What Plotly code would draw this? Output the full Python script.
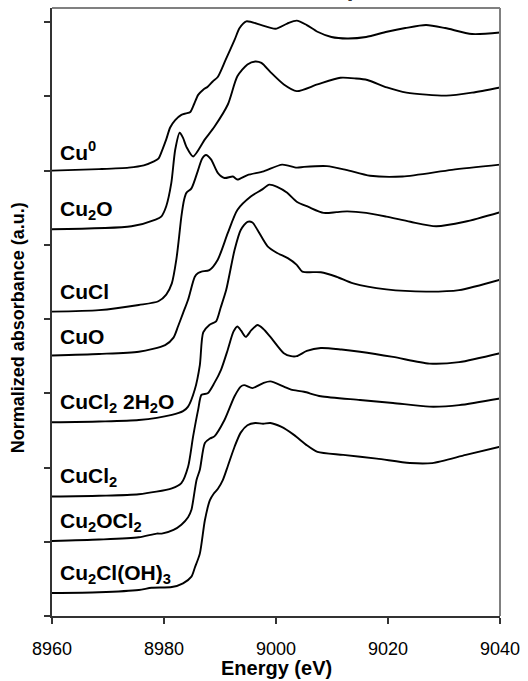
import plotly.graph_objects as go

# Cu K-edge XANES of reference compounds, stacked with vertical offsets.
# Each spectrum: energy (eV) and normalized absorbance; OFFSETS shift them.

NAMES = [
    "Cu<sup>0</sup>", "Cu<sub>2</sub>O", "CuCl", "CuO",
    "CuCl<sub>2</sub> 2H<sub>2</sub>O", "CuCl<sub>2</sub>",
    "Cu<sub>2</sub>OCl<sub>2</sub>", "Cu<sub>2</sub>Cl(OH)<sub>3</sub>",
]
OFFSETS = [6.0, 5.2, 4.1, 3.5, 2.6, 1.6, 1.0, 0.3]

E_CU0 = [8960, 8968.4, 8973.7, 8976.4, 8978.1, 8979.0, 8979.7, 8980.4, 8981.1,
         8982.0, 8983.1, 8983.9, 8984.7, 8985.4, 8986.1, 8987.0, 8987.8, 8988.7,
         8989.6, 8991.0, 8992.6, 8993.5, 8994.7, 8997.4, 8999.9, 9002.0, 9003.7,
         9005.5, 9007.4, 9009.9, 9012.7, 9016.1, 9019.8, 9023.1, 9026.8, 9030.2,
         9035.0, 9040]
MU_CU0 = [0.00, 0.02, 0.04, 0.07, 0.12, 0.16, 0.28, 0.42, 0.58, 0.68, 0.75, 0.77,
          0.79, 0.90, 1.02, 1.09, 1.13, 1.20, 1.26, 1.49, 1.76, 1.92, 2.01, 1.96,
          1.91, 1.98, 2.02, 1.96, 1.87, 1.80, 1.78, 1.80, 1.87, 1.92, 1.96, 1.92,
          1.84, 1.86]

E_CU2O = [8960, 8974.2, 8978.5, 8979.5, 8980.4, 8981.3, 8982.0, 8982.8, 8983.4,
          8984.0, 8985.2, 8987.3, 8989.0, 8991.4, 8993.1, 8994.9, 8996.3, 8997.4,
          8999.1, 9001.4, 9003.7, 9007.4, 9011.5, 9014.3, 9016.3, 9019.8, 9023.3,
          9030.4, 9035.0, 9040]
MU_CU2O = [0.01, 0.05, 0.14, 0.18, 0.32, 0.63, 1.08, 1.31, 1.24, 1.12, 0.99, 1.22,
           1.39, 1.69, 2.07, 2.23, 2.27, 2.25, 2.12, 1.96, 1.87, 1.96, 2.05, 2.04,
           2.02, 1.92, 1.85, 1.81, 1.85, 1.92]

E_CUCL = [8960, 8968.4, 8975.5, 8979.0, 8980.4, 8981.4, 8982.2, 8982.7, 8983.1,
          8983.6, 8984.0, 8984.9, 8986.1, 8986.8, 8987.5, 8988.4, 8989.6, 8990.8,
          8992.3, 8993.1, 8994.9, 8997.8, 9001.1, 9003.7, 9005.0, 9009.1, 9012.5,
          9016.8, 9022.6, 9031.4, 9040]
MU_CUCL = [0.00, 0.02, 0.09, 0.14, 0.23, 0.38, 0.70, 1.01, 1.28, 1.51, 1.60, 1.66,
           1.91, 2.06, 2.11, 2.05, 1.87, 1.80, 1.82, 1.78, 1.84, 1.89, 1.98, 1.94,
           1.95, 1.96, 1.91, 1.83, 1.82, 1.91, 1.98]

E_CUO = [8960, 8968.4, 8975.5, 8980.2, 8981.7, 8982.5, 8983.4, 8984.3, 8985.5,
         8986.1, 8986.7, 8988.1, 8989.6, 8991.4, 8993.1, 8995.5, 8997.4, 8998.8,
         9000.2, 9002.0, 9003.7, 9005.8, 9008.5, 9010.8, 9012.7, 9016.1, 9019.7,
         9024.0, 9028.6, 9033.7, 9040]
MU_CUO = [0.01, 0.03, 0.06, 0.15, 0.25, 0.40, 0.58, 0.76, 1.07, 1.12, 1.14, 1.16,
          1.30, 1.66, 1.97, 2.15, 2.24, 2.31, 2.28, 2.20, 2.08, 2.01, 1.93, 1.94,
          1.95, 1.93, 1.88, 1.81, 1.75, 1.81, 1.94]

E_CUCL2_2H2O = [8960, 8968.4, 8975.5, 8981.4, 8983.4, 8984.3, 8985.5, 8986.4,
                8987.0, 8988.1, 8989.3, 8990.1, 8991.1, 8992.6, 8993.7, 8994.9,
                8995.8, 8996.7, 8998.5, 9000.2, 9002.1, 9003.7, 9004.7, 9008.0,
                9010.8, 9013.8, 9019.7, 9026.8, 9032.7, 9040]
MU_CUCL2_2H2O = [0.01, 0.02, 0.04, 0.11, 0.16, 0.22, 0.45, 0.78, 1.22, 1.32, 1.37,
                 1.55, 1.79, 2.33, 2.60, 2.71, 2.70, 2.60, 2.38, 2.29, 2.22, 2.13,
                 2.04, 2.03, 1.97, 1.88, 1.80, 1.77, 1.79, 1.93]

E_CUCL2 = [8960, 8968.4, 8975.5, 8981.4, 8983.1, 8984.3, 8985.2, 8986.1, 8986.7,
           8987.8, 8989.0, 8990.2, 8991.4, 8992.4, 8993.1, 8993.8, 8994.6, 8995.6,
           8996.7, 8997.7, 8999.0, 9001.4, 9002.7, 9003.7, 9005.5, 9008.0, 9011.7,
           9015.0, 9020.9, 9027.4, 9032.7, 9040]
MU_CUCL2 = [0.01, 0.02, 0.04, 0.12, 0.19, 0.41, 0.82, 1.18, 1.38, 1.40, 1.54, 1.72,
            1.99, 2.23, 2.30, 2.24, 2.16, 2.25, 2.32, 2.27, 2.16, 1.94, 1.90, 1.90,
            1.97, 2.01, 1.99, 1.96, 1.89, 1.80, 1.82, 1.94]

E_CU2OCL2 = [8960, 8968.4, 8975.5, 8978.7, 8979.6, 8981.7, 8983.1, 8984.3, 8984.9,
             8985.8, 8986.4, 8987.3, 8988.2, 8989.0, 8990.8, 8992.6, 8993.7, 8994.3,
             8995.8, 8997.8, 8999.0, 9001.4, 9002.7, 9005.0, 9008.0, 9015.0, 9020.9,
             9027.4, 9032.7, 9040]
MU_CU2OCL2 = [0.01, 0.03, 0.06, 0.11, 0.11, 0.16, 0.23, 0.33, 0.43, 0.83, 0.97, 1.33,
              1.39, 1.42, 1.64, 1.96, 2.09, 2.11, 2.07, 2.14, 2.16, 2.09, 2.05, 2.02,
              1.96, 1.91, 1.87, 1.82, 1.84, 1.93]

E_CU2CLOH3 = [8960, 8968.4, 8975.5, 8977.8, 8981.4, 8983.4, 8984.9, 8985.5, 8986.4,
              8987.3, 8988.2, 8988.9, 8989.6, 8990.5, 8991.4, 8992.6, 8993.7, 8994.9,
              8996.3, 8997.7, 8999.0, 9000.9, 9003.2, 9005.5, 9007.4, 9012.0, 9018.0,
              9023.9, 9027.9, 9033.9, 9040]
MU_CU2CLOH3 = [0.01, 0.02, 0.05, 0.08, 0.09, 0.14, 0.23, 0.35, 0.54, 0.99, 1.26, 1.35,
               1.41, 1.53, 1.72, 1.98, 2.17, 2.27, 2.30, 2.29, 2.30, 2.25, 2.14, 2.00,
               1.91, 1.87, 1.82, 1.76, 1.76, 1.87, 1.98]

SPECTRA = [
    (E_CU0, MU_CU0), (E_CU2O, MU_CU2O), (E_CUCL, MU_CUCL), (E_CUO, MU_CUO),
    (E_CUCL2_2H2O, MU_CUCL2_2H2O), (E_CUCL2, MU_CUCL2),
    (E_CU2OCL2, MU_CU2OCL2), (E_CU2CLOH3, MU_CU2CLOH3),
]

X_TICKS = [8960, 8980, 9000, 9020, 9040]
Y_TICKS = list(range(9))

FONT = "Arial, 'Liberation Sans', sans-serif"
AXIS_INK = "#333333"

fig = go.Figure()
for name, off, (e, mu) in zip(NAMES, OFFSETS, SPECTRA):
    fig.add_scatter(x=e, y=[m + off for m in mu], mode="lines", name=name,
                    line=dict(color="black", width=1.9, shape="spline",
                              smoothing=0.7),
                    showlegend=False, hoverinfo="skip")
    fig.add_annotation(x=8961, y=off + 0.27, xref="x", yref="y", text=name,
                       showarrow=False, xanchor="left", yanchor="middle",
                       font=dict(family=FONT, size=21, color="black",
                                 weight="bold"))

# axis titles
fig.add_annotation(x=-0.077, y=0.474, xref="paper", yref="paper",
                   text="Normalized absorbance (a.u.)", textangle=-90,
                   showarrow=False, xanchor="center", yanchor="middle",
                   font=dict(family=FONT, size=18, color="black", weight="bold"))
fig.add_annotation(x=0.5, y=-0.0855, xref="paper", yref="paper",
                   text="Energy (eV)", showarrow=False,
                   xanchor="center", yanchor="middle",
                   font=dict(family=FONT, size=20, color="black", weight="bold"))
# title, cropped off above the figure edge (only a descender shows)
fig.add_annotation(x=0.202, y=1, xref="paper", yref="paper",
                   text="Cu reference compounds", showarrow=False,
                   xanchor="left", yanchor="bottom", yshift=5,
                   font=dict(family=FONT, size=24, color="#333333", weight="bold"))

# top/right frame in gray
for x0, y0, x1, y1 in ((0, 1, 1, 1), (1, 0, 1, 1)):
    fig.add_shape(type="line", xref="paper", yref="paper", x0=x0, y0=y0,
                  x1=x1, y1=y1, line=dict(color="#808080", width=2))

fig.update_layout(
    width=528, height=681,
    margin=dict(l=52, r=23, t=8, b=65),
    paper_bgcolor="white", plot_bgcolor="white",
    font=dict(family=FONT, color="black"),
    xaxis=dict(range=[8960, 9040], tickvals=X_TICKS, ticks="outside",
               ticklen=6, tickwidth=1.5, tickcolor=AXIS_INK,
               showline=True, linecolor=AXIS_INK, linewidth=1.5,
               showgrid=False, zeroline=False, ticklabelstandoff=10,
               tickfont=dict(family=FONT, size=18, color="black")),
    yaxis=dict(range=[0, 8.19], tickvals=Y_TICKS, ticks="outside",
               ticklen=6, tickwidth=1.5, tickcolor=AXIS_INK,
               showline=True, linecolor=AXIS_INK, linewidth=1.5,
               showticklabels=False, showgrid=False, zeroline=False),
)

# drop the page's default body margin so the figure sits at the window corner
fig.write_html("out.html", config={"displayModeBar": False},
               post_script="document.body.style.margin='0';")
